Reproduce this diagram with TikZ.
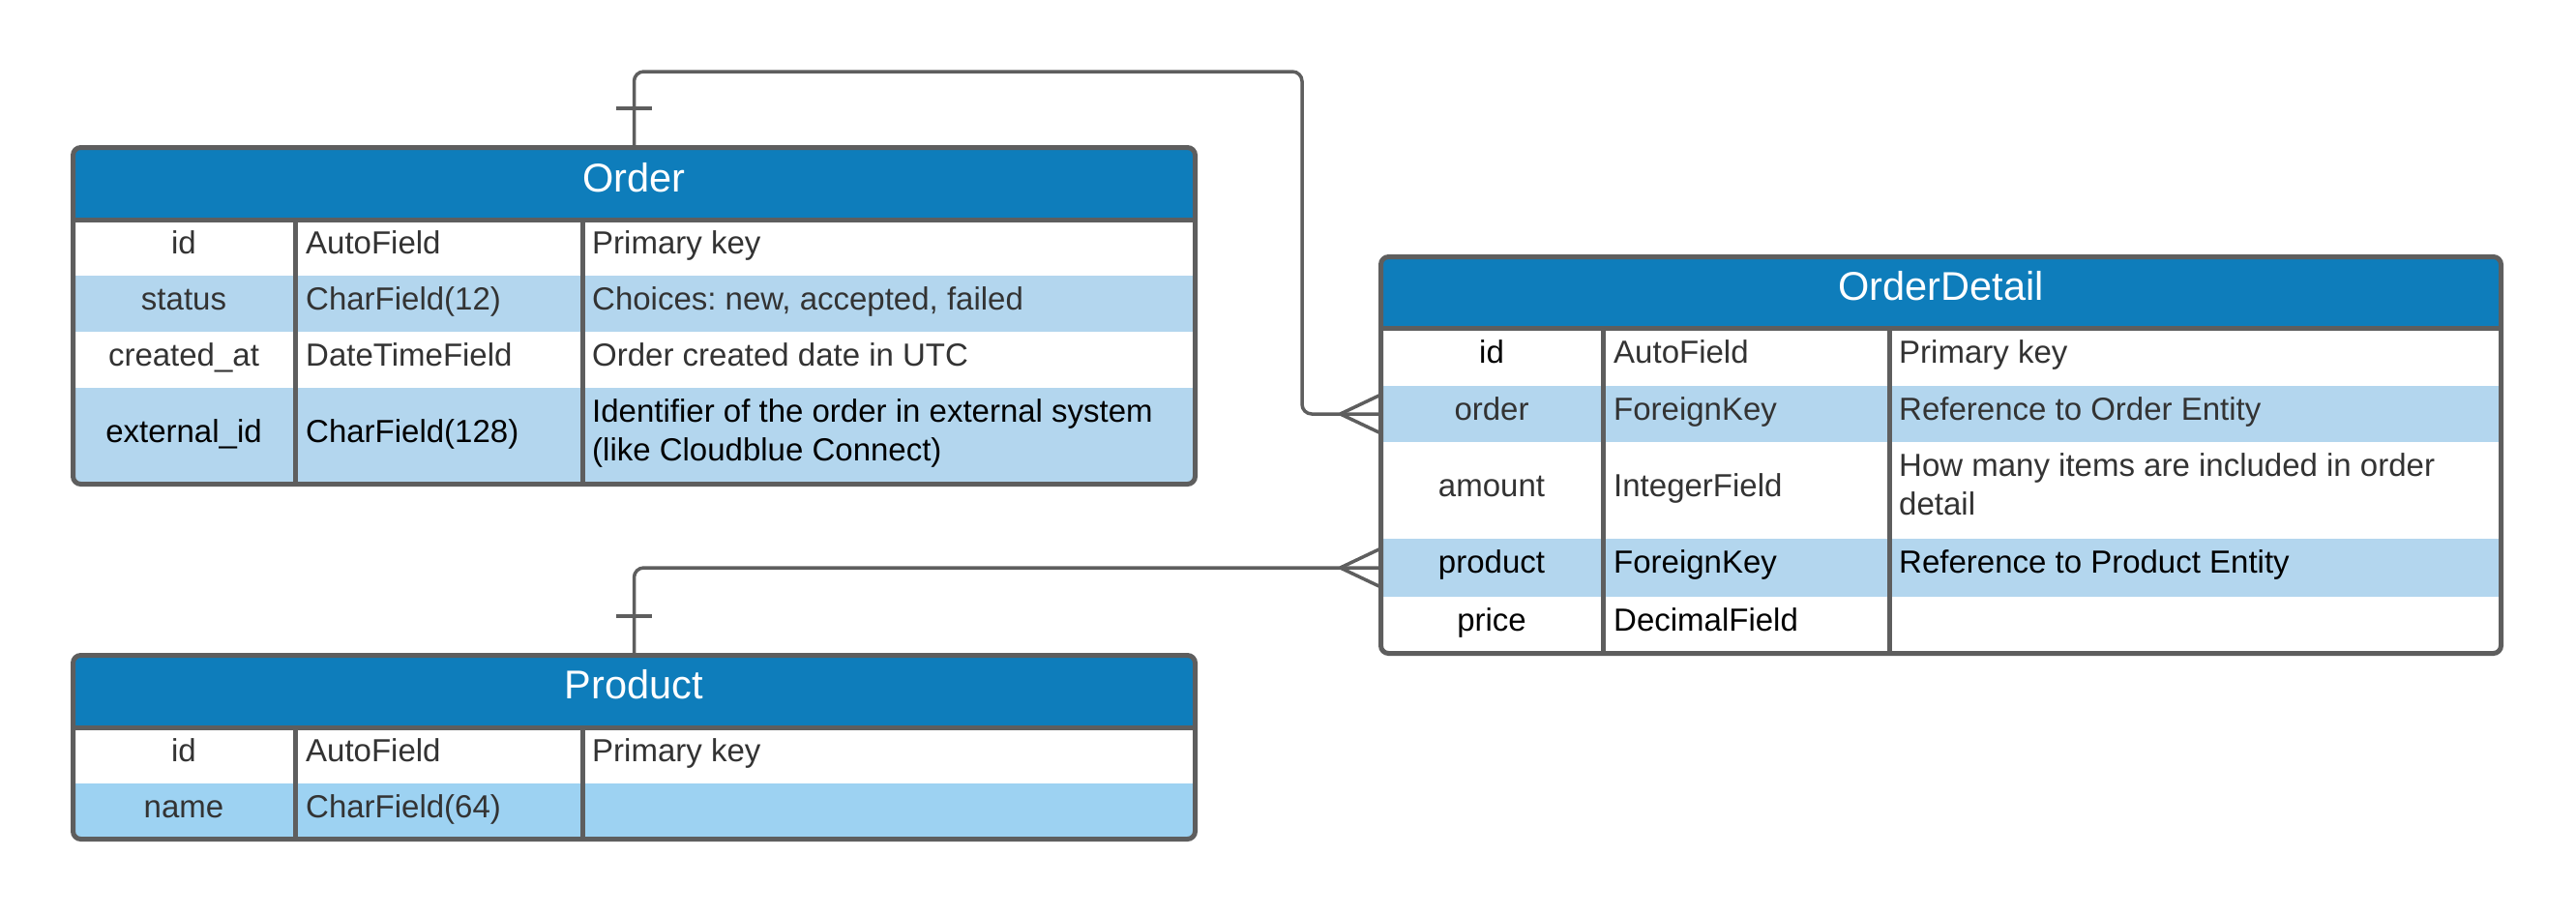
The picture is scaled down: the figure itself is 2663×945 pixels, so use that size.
\documentclass[tikz,border=0pt]{standalone}
\usepackage{fontspec}
\setmainfont{Liberation Sans}
\frenchspacing
\definecolor{hdr}{HTML}{0E7DBB}
\definecolor{rowb}{HTML}{B3D6EE}
\definecolor{rowc}{HTML}{9DD2F2}
\definecolor{ln}{HTML}{5E5E5E}
\definecolor{tx}{HTML}{333333}
\begin{document}
\begin{tikzpicture}[x=1pt,y=-1pt,
  tbl/.style={rectangle, inner sep=0pt, outer sep=0pt, draw=none},
  cell/.style={inner sep=0pt, font=\fontsize{33}{40}\selectfont, text=tx},
  blk/.style={text=black},
  ttl/.style={inner sep=0pt, font=\fontsize{41.5}{48}\selectfont, text=white, anchor=base},
  boxline/.style={draw=ln, line width=5pt, rounded corners=8pt},
  divline/.style={draw=ln, line width=5pt},
  conn/.style={draw=ln, line width=3.5pt, rounded corners=10pt},
  crow/.style={draw=ln, line width=3.5pt},
  tick/.style={draw=ln, line width=4pt},
]
\useasboundingbox[fill=white] (0,0) rectangle (2663,945);

% ---------------- table frames (named nodes)
\node[tbl, minimum width=1160pt, minimum height=348pt] (order) at (655.5,326.5) {};
\node[tbl, minimum width=1160pt, minimum height=190pt] (product) at (655.5,772.5) {};
\node[tbl, minimum width=1158pt, minimum height=410pt] (detail) at (2006.5,470.5) {};

% ---------------- Order table
\begin{scope}
\clip[rounded corners=8pt] (order.north west) rectangle (order.south east);
\fill[hdr] (75.5,152.5) rectangle (1235.5,227);
\fill[rowb] (75.5,285) rectangle (1235.5,343);
\fill[rowb] (75.5,401) rectangle (1235.5,500.5);
\end{scope}
\draw[divline] (75.5,227) -- (1235.5,227);
\draw[divline] (305,227) -- (305,500.5);
\draw[divline] (602,227) -- (602,500.5);
\draw[boxline] (order.north west) rectangle (order.south east);

\node[ttl] (o-t) at (655.5,198) {Order};
\node[cell, anchor=base] (o-1a) at (190,262.5) {id};
\node[cell, anchor=base west] (o-1b) at (316,262.5) {AutoField};
\node[cell, anchor=base west] (o-1c) at (612,262.5) {Primary key};
\node[cell, anchor=base] (o-2a) at (190,320.5) {status};
\node[cell, anchor=base west] (o-2b) at (316,320.5) {CharField(12)};
\node[cell, anchor=base west] (o-2c) at (612,320.5) {Choices: new, accepted, failed};
\node[cell, anchor=base] (o-3a) at (190,378.5) {created\_at};
\node[cell, anchor=base west] (o-3b) at (316,378.5) {DateTimeField};
\node[cell, anchor=base west] (o-3c) at (612,378.5) {Order created date in UTC};
\node[cell, blk, anchor=base] (o-4a) at (190,457) {external\_id};
\node[cell, blk, anchor=base west] (o-4b) at (316,457) {CharField(128)};
\node[cell, blk, anchor=west, align=left] (o-4c) at (612,448.4) {Identifier of the order in external system\\(like Cloudblue Connect)};

% ---------------- Product table
\begin{scope}
\clip[rounded corners=8pt] (product.north west) rectangle (product.south east);
\fill[hdr] (75.5,677.5) rectangle (1235.5,752);
\fill[rowc] (75.5,810) rectangle (1235.5,867.5);
\end{scope}
\draw[divline] (75.5,752) -- (1235.5,752);
\draw[divline] (305,752) -- (305,867.5);
\draw[divline] (602,752) -- (602,867.5);
\draw[boxline] (product.north west) rectangle (product.south east);

\node[ttl] (p-t) at (655.5,722.75) {Product};
\node[cell, anchor=base] (p-1a) at (190,787.5) {id};
\node[cell, anchor=base west] (p-1b) at (316,787.5) {AutoField};
\node[cell, anchor=base west] (p-1c) at (612,787.5) {Primary key};
\node[cell, anchor=base] (p-2a) at (190,845) {name};
\node[cell, anchor=base west] (p-2b) at (316,845) {CharField(64)};

% ---------------- OrderDetail table
\begin{scope}
\clip[rounded corners=8pt] (detail.north west) rectangle (detail.south east);
\fill[hdr] (1427.5,265.5) rectangle (2585.5,339);
\fill[rowb] (1427.5,399) rectangle (2585.5,457);
\fill[rowb] (1427.5,556.5) rectangle (2585.5,616.5);
\end{scope}
\draw[divline] (1427.5,339) -- (2585.5,339);
\draw[divline] (1657,339) -- (1657,675.5);
\draw[divline] (1953,339) -- (1953,675.5);
\draw[boxline] (detail.north west) rectangle (detail.south east);

\node[ttl] (d-t) at (2006.5,310) {OrderDetail};
\node[cell, blk, anchor=base] (d-1a) at (1542,375) {id};
\node[cell, anchor=base west] (d-1b) at (1668,375) {AutoField};
\node[cell, anchor=base west] (d-1c) at (1963,375) {Primary key};
\node[cell, anchor=base] (d-2a) at (1542,434) {order};
\node[cell, anchor=base west] (d-2b) at (1668,434) {ForeignKey};
\node[cell, anchor=base west] (d-2c) at (1963,434) {Reference to Order Entity};
\node[cell, anchor=base] (d-3a) at (1542,513) {amount};
\node[cell, anchor=base west] (d-3b) at (1668,513) {IntegerField};
\node[cell, anchor=west, align=left] (d-3c) at (1963,501) {How many items are included in order\\detail};
\node[cell, blk, anchor=base] (d-4a) at (1542,592.5) {product};
\node[cell, blk, anchor=base west] (d-4b) at (1668,592.5) {ForeignKey};
\node[cell, blk, anchor=base west] (d-4c) at (1963,592.5) {Reference to Product Entity};
\node[cell, blk, anchor=base] (d-5a) at (1542,652) {price};
\node[cell, blk, anchor=base west] (d-5b) at (1668,652) {DecimalField};

% ---------------- connectors
\coordinate (odOrder) at (1427.5,428);
\coordinate (odProduct) at (1427.5,587);
\coordinate (bend1) at (1346,74);

\draw[conn] (order.north) |- (bend1) |- (odOrder);
\draw[conn] (product.north) |- (odProduct);

% crow's feet (many)
\draw[crow] (odOrder) ++(-42,0) -- ++(40,-19);
\draw[crow] (odOrder) ++(-42,0) -- ++(40,19);
\draw[crow] (odProduct) ++(-42,0) -- ++(40,-19);
\draw[crow] (odProduct) ++(-42,0) -- ++(40,19);

% one bars
\draw[tick] (order.north) ++(-18.5,-40.5) -- ++(37,0);
\draw[tick] (product.north) ++(-18.5,-40.5) -- ++(37,0);
\end{tikzpicture}
\end{document}
